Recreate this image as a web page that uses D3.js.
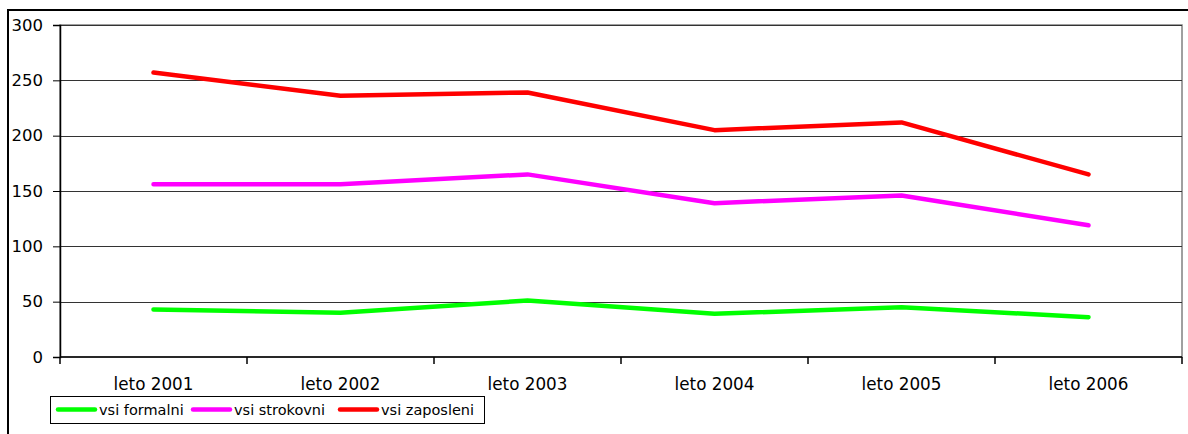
<!DOCTYPE html>
<html>
<head>
<meta charset="utf-8">
<script src="https://cdn.jsdelivr.net/npm/d3@7"></script>
<style>
  body { margin: 0; background: #fff; }
  svg { display: block; font-family: "DejaVu Sans", Verdana, sans-serif; }
</style>
</head>
<body>
<div id="vis-container"></div>
<script>
// data
var categories = ["leto 2001", "leto 2002", "leto 2003", "leto 2004", "leto 2005", "leto 2006"];
var formalni   = [43, 40, 51, 39, 45, 36];
var strokovni  = [156, 156, 165, 139, 146, 119];
var zaposleni  = [257, 236, 239, 205, 212, 165];
var seriesNames  = ["vsi formalni", "vsi strokovni", "vsi zaposleni"];
var seriesColors = ["#00ff00", "#ff00ff", "#ff0000"];
var yTicks = [0, 50, 100, 150, 200, 250, 300];

var W = 1188, H = 434;
var margin = { top: 25, right: 6, bottom: 77, left: 60 },
    width  = W - margin.left - margin.right,
    height = H - margin.top - margin.bottom;

var svg = d3.select("#vis-container")
  .append("svg")
    .attr("width", W)
    .attr("height", H);

// outer frame (only top and left visible)
svg.append("line").attr("x1", 8).attr("x2", W).attr("y1", 10).attr("y2", 10)
  .attr("stroke", "#000").attr("stroke-width", 2);
svg.append("line").attr("x1", 8).attr("x2", 8).attr("y1", 9).attr("y2", H)
  .attr("stroke", "#000").attr("stroke-width", 2);

var canvas = svg.append("g")
  .attr("transform", "translate(" + margin.left + "," + margin.top + ")");

var xBand = d3.scaleBand().domain(categories).range([0, width]);
var xScale = function (c) { return xBand(c) + xBand.bandwidth() / 2; };
var yScale = d3.scaleLinear().domain([0, 300]).range([height, 0]);

// plot area border (gray)
canvas.append("rect")
  .attr("x", 0).attr("y", 0)
  .attr("width", width).attr("height", height)
  .attr("fill", "none").attr("stroke", "#808080").attr("stroke-width", 1.5);

// gridlines
canvas.selectAll(".grid")
  .data(yTicks.filter(function (d) { return d > 0; }))
  .enter().append("line")
    .attr("class", "grid")
    .attr("x1", 0).attr("x2", width)
    .attr("y1", function (d) { return Math.round(yScale(d)) + 0.5; })
    .attr("y2", function (d) { return Math.round(yScale(d)) + 0.5; })
    .attr("stroke", "#333").attr("stroke-width", 1);

// y axis
var yAxis = d3.axisLeft(yScale).tickValues(yTicks).tickSize(7).tickPadding(10);
var gy = canvas.append("g").call(yAxis)
  .attr("font-family", "DejaVu Sans, Verdana, sans-serif");
gy.select(".domain").attr("stroke", "#000").attr("stroke-width", 1.5);
gy.selectAll(".tick line").attr("stroke", "#000");
gy.selectAll("text").style("font-size", "16.5px").attr("fill", "#000");

// x axis: ticks at category boundaries
var gx = canvas.append("g").attr("transform", "translate(0," + height + ")");
gx.append("line").attr("x1", 0).attr("x2", width).attr("y1", 0).attr("y2", 0)
  .attr("stroke", "#000").attr("stroke-width", 1.5);
var bounds = categories.map(function (c) { return xBand(c); }).concat([width]);
gx.selectAll(".xtick").data(bounds).enter().append("line")
  .attr("x1", function (d) { return d; }).attr("x2", function (d) { return d; })
  .attr("y1", 0).attr("y2", 7)
  .attr("stroke", "#000").attr("stroke-width", 1.5);
gx.selectAll(".xlabel").data(categories).enter().append("text")
  .attr("x", function (d) { return xScale(d); })
  .attr("y", 33)
  .attr("text-anchor", "middle")
  .style("font-size", "16.8px")
  .text(function (d) { return d; });

// lines
var allSeries = [formalni, strokovni, zaposleni];
var line = d3.line()
  .x(function (d, i) { return xScale(categories[i]); })
  .y(function (d) { return yScale(d); });

canvas.selectAll(".series")
  .data(allSeries)
  .enter().append("path")
    .attr("class", "series")
    .attr("d", line)
    .attr("fill", "none")
    .attr("stroke", function (d, i) { return seriesColors[i]; })
    .attr("stroke-width", 4.5)
    .attr("stroke-linecap", "round")
    .attr("stroke-linejoin", "round");

// legend
var legend = svg.append("g").attr("transform", "translate(50,396)");
legend.append("rect")
  .attr("x", 0.5).attr("y", 0.5)
  .attr("width", 434).attr("height", 27)
  .attr("fill", "#fff").attr("stroke", "#000");
var offsets = [5, 140, 287];
var items = legend.selectAll(".item")
  .data(seriesNames)
  .enter().append("g")
    .attr("transform", function (d, i) { return "translate(" + offsets[i] + ",0)"; });
items.append("line")
  .attr("x1", 3).attr("x2", 40).attr("y1", 13.5).attr("y2", 13.5)
  .attr("stroke", function (d, i) { return seriesColors[i]; })
  .attr("stroke-width", 4.5).attr("stroke-linecap", "round");
items.append("text")
  .attr("x", 44).attr("y", 19)
  .style("font-size", "14.5px")
  .text(function (d) { return d; });
</script>
</body>
</html>
